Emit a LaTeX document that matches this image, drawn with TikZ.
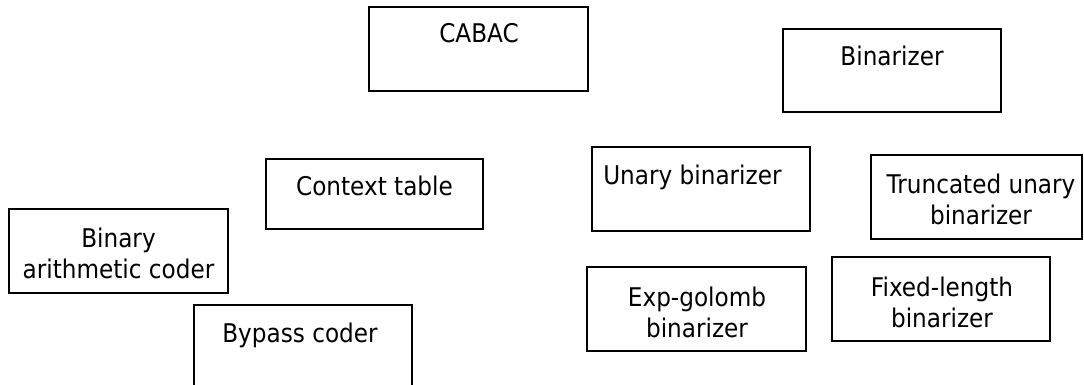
\documentclass[tikz,border=0pt]{standalone}
\usepackage{fontspec}
\setmainfont{DejaVu Sans}[FakeStretch=0.9]
\usetikzlibrary{fit}
\begin{document}
\begin{tikzpicture}[x=0.75pt,y=-0.75pt,
  block/.style={draw=black, line width=1.6pt, rectangle, inner sep=0pt},
  caption/.style={font=\fontsize{19.3}{23.25}\selectfont, inner sep=0pt,
    anchor=base, align=center}]
  \useasboundingbox (0,0) rectangle (1084,385);
  \clip (0,0) rectangle (1084,385);

  % boxes
  \node[block, fit={(369,7) (588,91)}]    (cabac) {};
  \node[block, fit={(783,29) (1001,112)}] (bin) {};
  \node[block, fit={(266,159) (483,229)}] (ctx) {};
  \node[block, fit={(592,147) (810,231)}] (unary) {};
  \node[block, fit={(871,155) (1082,239)}] (trunc) {};
  \node[block, fit={(9,209) (228,293)}]   (arith) {};
  \node[block, fit={(587,267) (806,351)}] (expg) {};
  \node[block, fit={(832,257) (1050,341)}] (fixed) {};
  \node[block, fit={(194,305) (412,400)}] (bypass) {};

  % labels (multi-line labels are anchored at the baseline of their last line)
  \node[caption] (cabac-t)  at (479,43)   {CABAC};
  \node[caption] (bin-t)    at (892,65)   {Binarizer};
  \node[caption] (ctx-t)    at (374.5,195) {Context table};
  \node[caption, anchor=base west] (unary-t) at (603,184) {Unary binarizer};
  \node[caption] (trunc-t)  at (981,224)  {Truncated unary\\binarizer};
  \node[caption] (arith-t)  at (118.5,278) {Binary\\arithmetic coder};
  \node[caption] (expg-t)   at (697,337)  {Exp-golomb\\binarizer};
  \node[caption] (fixed-t)  at (942,327)  {Fixed-length\\binarizer};
  \node[caption] (bypass-t) at (300,342)  {Bypass coder};
\end{tikzpicture}
\end{document}
